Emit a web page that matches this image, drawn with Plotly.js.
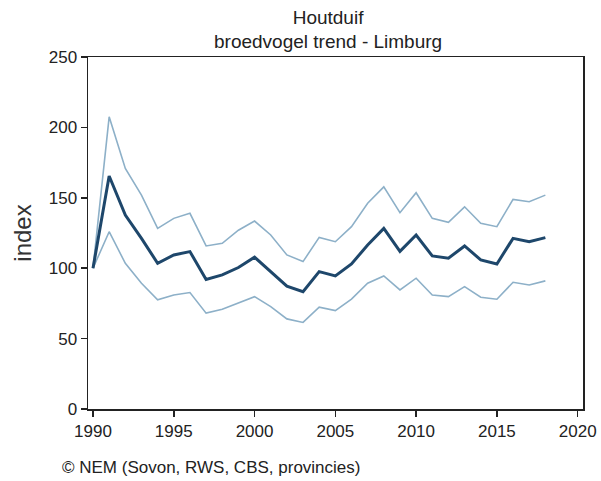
<!DOCTYPE html>
<html>
<head>
<meta charset="utf-8">
<script src="https://cdn.plot.ly/plotly-3.0.1.min.js"></script>
<style>html,body{margin:0;padding:0;background:#fff;}#chart{width:601px;height:481px;}</style>
</head>
<body>
<div id="chart"></div>
<script>
const years = [1990,1991,1992,1993,1994,1995,1996,1997,1998,1999,2000,2001,2002,2003,2004,2005,2006,2007,2008,2009,2010,2011,2012,2013,2014,2015,2016,2017,2018];
const indexValues = [100,165.5,137.8,121.2,103.5,109.4,111.8,92.0,95.2,100.5,107.8,97.6,87.2,83.3,97.6,94.5,103.0,116.5,128.3,112.0,123.6,108.7,107.1,115.8,105.9,103.0,121.2,118.8,121.7];
const upperValues = [100,207.5,170.9,151.9,128.3,135.4,139.0,115.8,117.7,127.0,133.5,123.6,109.4,104.7,121.9,118.8,129.5,146.1,157.8,139.4,153.6,135.4,132.6,143.6,131.9,129.5,148.9,147.2,151.9];
const lowerValues = [100,125.9,103.5,89.3,77.5,81.0,82.7,68.1,70.9,75.1,79.8,72.7,64.0,61.5,72.3,69.9,78.0,89.3,94.5,84.6,92.9,81.0,79.8,86.9,79.4,78.0,90.0,88.1,91.0];
const xTicks = [1990,1995,2000,2005,2010,2015,2020];
const yTicks = [0,50,100,150,200,250];

const font = "Liberation Sans, Arial, sans-serif";
const traces = [
  {x: years, y: upperValues, type:'scatter', mode:'lines', line:{color:'#8db0c8', width:1.6}, hoverinfo:'skip'},
  {x: years, y: lowerValues, type:'scatter', mode:'lines', line:{color:'#8db0c8', width:1.6}, hoverinfo:'skip'},
  {x: years, y: indexValues, type:'scatter', mode:'lines', line:{color:'#1e476b', width:3}, hoverinfo:'skip'}
];
const layout = {
  width: 601, height: 481,
  margin: {l: 88, r: 18, t: 57, b: 72},
  paper_bgcolor: '#fff', plot_bgcolor: '#fff',
  showlegend: false,
  font: {family: font, size: 17, color: '#222'},
  title: {text: 'Houtduif<br>broedvogel trend - Limburg', x: 0.485, xref: 'paper', xanchor: 'center', y: 0.951, yref: 'container', yanchor: 'top', font: {family: font, size: 19, color: '#222'}},
  xaxis: {
    range: [1989.69, 2020.33], tickvals: xTicks, ticktext: xTicks.map(String),
    showgrid: false, zeroline: false, showline: true, linecolor: '#222', linewidth: 1.5, mirror: true,
    ticks: 'outside', ticklen: 6, tickwidth: 1.5, tickcolor: '#222',
    tickfont: {family: font, size: 17, color: '#222'}
  },
  yaxis: {
    range: [0, 250], tickvals: yTicks, ticktext: yTicks.map(String),
    showgrid: false, zeroline: false, showline: true, linecolor: '#222', linewidth: 1.5, mirror: true,
    ticks: 'outside', ticklen: 6, tickwidth: 1.5, tickcolor: '#222',
    tickfont: {family: font, size: 17, color: '#222'},
    title: {text: 'index', font: {family: font, size: 24, color: '#333'}, standoff: 10}
  },
  annotations: [
    {text: '© NEM (Sovon, RWS, CBS, provincies)', xref: 'paper', yref: 'paper', x: -0.056, y: -0.165, xanchor: 'left', yanchor: 'middle', showarrow: false, font: {family: font, size: 17, color: '#222'}}
  ]
};
Plotly.newPlot('chart', traces, layout, {displayModeBar: false, staticPlot: true});
</script>
</body>
</html>
